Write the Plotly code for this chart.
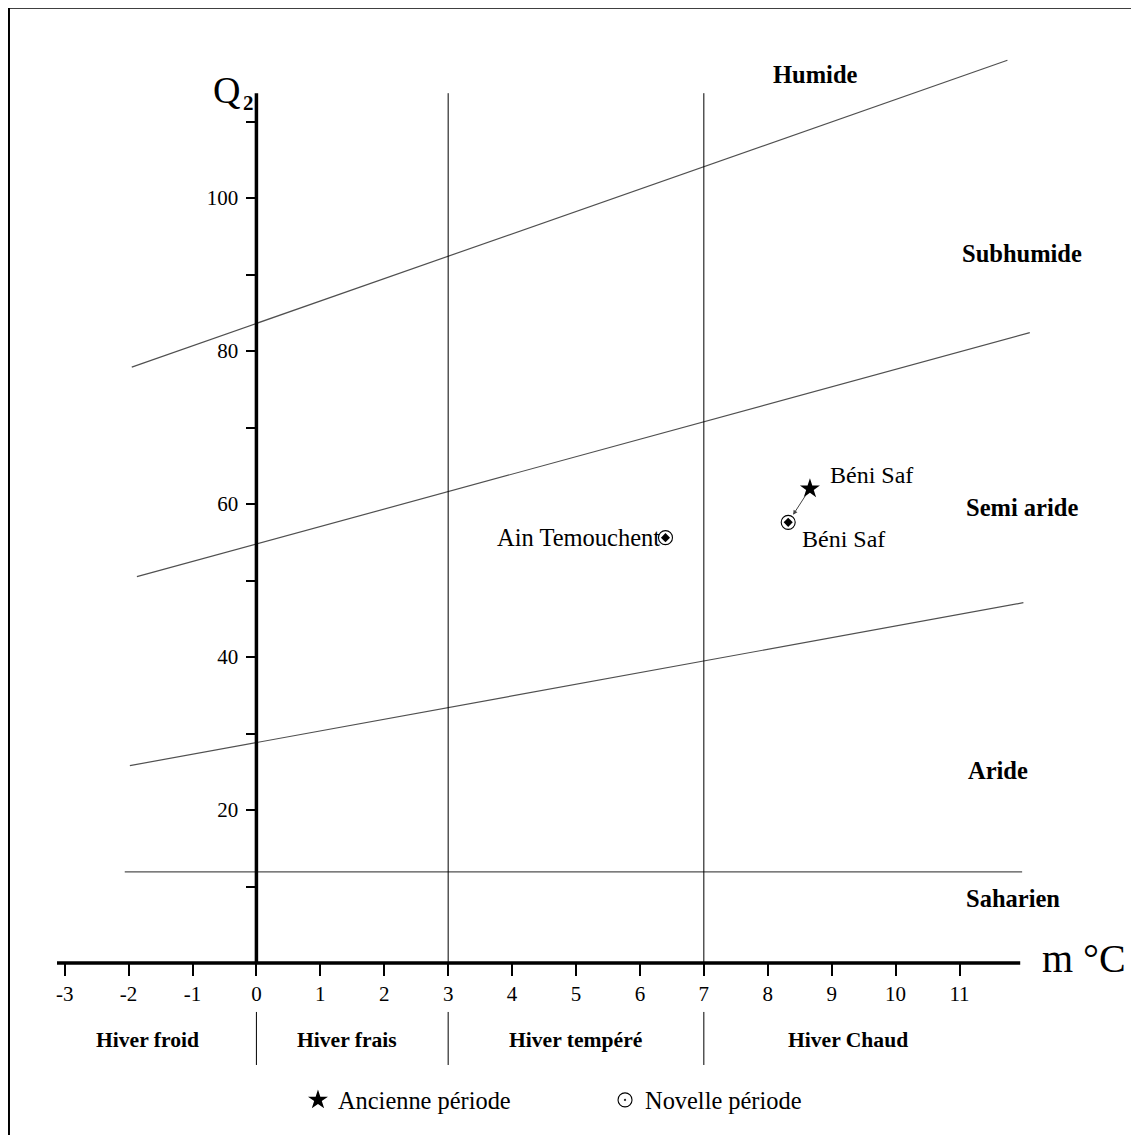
import plotly.graph_objects as go

# ---------------- data ----------------
x_ticks = [-3, -2, -1, 0, 1, 2, 3, 4, 5, 6, 7, 8, 9, 10, 11]
y_tick_vals = [10, 20, 30, 40, 50, 60, 70, 80, 90, 100, 110]
y_tick_text = ["", "20", "", "40", "", "60", "", "80", "", "100", ""]

# bioclimatic boundaries (Emberger)
humide_x = [-1.95, 11.75]
humide_y = [77.9, 118.0]
semiaride_x = [-1.87, 12.1]
semiaride_y = [50.5, 82.4]
aride_x = [-1.98, 12.0]
aride_y = [25.8, 47.1]
saharien_x = [-2.06, 11.98]
saharien_y = [11.9, 11.9]

winter_lines_x = [3, 7]
winter_lines_top = 113.7
winter_bounds = [0, 3, 7]
winter_labels = ["Hiver froid", "Hiver frais", "Hiver tempéré", "Hiver Chaud"]
winter_label_x = [-1.7, 1.42, 5.0, 9.25]

zone_labels = ["Humide", "Subhumide", "Semi aride", "Aride", "Saharien"]
zone_label_x = [8.74, 11.98, 11.98, 11.6, 11.83]
zone_label_y = [116.1, 92.8, 59.5, 25.1, 8.4]

old_names = ["Béni Saf"]
old_x = [8.66]
old_y = [62.0]

new_names = ["Ain Temouchent", "Béni Saf"]
new_x = [6.40, 8.32]
new_y = [55.6, 57.6]

X_RANGE = [-3.12, 12.15]
Y_RANGE = [0, 118.3]
Y_AXIS_TOP = 113.7
X_AXIS_END = 11.95

FONT = "Liberation Serif"
LINE_GREY = "#505050"

fig = go.Figure()

for xs, ys in [(humide_x, humide_y), (semiaride_x, semiaride_y),
               (aride_x, aride_y), (saharien_x, saharien_y)]:
    fig.add_trace(go.Scatter(x=xs, y=ys, mode="lines",
                             line=dict(color=LINE_GREY, width=1.2),
                             showlegend=False, hoverinfo="skip"))

for xv in winter_lines_x:
    fig.add_trace(go.Scatter(x=[xv, xv], y=[0, winter_lines_top], mode="lines",
                             line=dict(color="black", width=1),
                             showlegend=False, hoverinfo="skip"))

# points
fig.add_trace(go.Scatter(x=old_x, y=old_y, mode="markers", name="Ancienne période",
                         marker=dict(symbol="star", size=15, color="black"),
                         legend="legend", cliponaxis=False))
fig.add_trace(go.Scatter(x=new_x, y=new_y, mode="markers", name="Novelle période",
                         marker=dict(symbol="circle-open-dot", size=14, color="black",
                                     line=dict(width=1.1, color="black")),
                         legend="legend2", cliponaxis=False))
fig.add_trace(go.Scatter(x=new_x, y=new_y, mode="markers", showlegend=False,
                         marker=dict(symbol="diamond", size=7, color="black"),
                         cliponaxis=False, hoverinfo="skip"))

shapes = []
# y axis line at x = 0
shapes.append(dict(type="line", xref="x", yref="y", x0=0, x1=0, y0=0, y1=Y_AXIS_TOP,
                   line=dict(color="black", width=3.5)))
# x axis line at y = 0
shapes.append(dict(type="line", xref="x", yref="paper", x0=X_RANGE[0], x1=X_AXIS_END,
                   y0=0, y1=0, line=dict(color="black", width=3.5)))
# winter separators below axis
for b in winter_bounds:
    shapes.append(dict(type="line", xref="x", yref="paper", x0=b, x1=b,
                       y0=-0.0541, y1=-0.1127, line=dict(color="black", width=1)))
# frame (left and top)
shapes.append(dict(type="line", xref="paper", yref="paper", x0=-0.0492, x1=-0.0492,
                   y0=-0.2, y1=1.0554, line=dict(color="black", width=2)))
shapes.append(dict(type="line", xref="paper", yref="paper", x0=-0.0492, x1=1.12,
                   y0=1.0554, y1=1.0554, line=dict(color="black", width=2)))

annotations = []
for t, xv, yv in zip(zone_labels, zone_label_x, zone_label_y):
    annotations.append(dict(x=xv, y=yv, xref="x", yref="y", text="<b>" + t + "</b>",
                            xanchor="center", yanchor="middle",
                            showarrow=False, font=dict(family=FONT, size=24.5, color="black")))
for t, xv in zip(winter_labels, winter_label_x):
    annotations.append(dict(x=xv, y=-0.0851, xref="x", yref="paper", text="<b>" + t + "</b>",
                            xanchor="center", yanchor="middle",
                            showarrow=False, font=dict(family=FONT, size=21.6, color="black")))

# station labels
annotations.append(dict(x=new_x[0], y=new_y[0], xref="x", yref="y", text=new_names[0],
                        xanchor="right", yanchor="middle", xshift=-3, showarrow=False,
                        font=dict(family=FONT, size=24.5, color="black")))
annotations.append(dict(x=new_x[1], y=new_y[1], xref="x", yref="y", text=new_names[1],
                        xanchor="left", yanchor="middle", xshift=12, yshift=-17, showarrow=False,
                        font=dict(family=FONT, size=24, color="black")))
annotations.append(dict(x=old_x[0], y=old_y[0], xref="x", yref="y", text=old_names[0],
                        xanchor="left", yanchor="middle", xshift=18, yshift=14, showarrow=False,
                        font=dict(family=FONT, size=24, color="black")))
# arrow old -> new
annotations.append(dict(x=new_x[1], y=new_y[1], ax=old_x[0], ay=old_y[0],
                        xref="x", yref="y", axref="x", ayref="y", text="",
                        showarrow=True, arrowhead=2, arrowsize=0.9, arrowwidth=1,
                        arrowcolor="#444444", standoff=9, startstandoff=7))
# axis titles
annotations.append(dict(x=0.1895, y=0.9646, xref="paper", yref="paper",
                        text="Q", showarrow=False, xanchor="right", yanchor="middle",
                        font=dict(family=FONT, size=38, color="black")))
annotations.append(dict(x=0.1885, y=0.950, xref="paper", yref="paper",
                        text="<b>2</b>", showarrow=False, xanchor="left", yanchor="middle",
                        font=dict(family=FONT, size=21, color="black")))
annotations.append(dict(x=1.052, y=0.005, xref="paper", yref="paper",
                        text="m °C", showarrow=False, xanchor="center", yanchor="middle",
                        font=dict(family=FONT, size=40, color="black")))

fig.update_layout(
    width=1131, height=1127,
    margin=dict(l=49, r=106, t=50, b=172),
    paper_bgcolor="white", plot_bgcolor="white",
    font=dict(family=FONT, color="black"),
    xaxis=dict(range=X_RANGE, showgrid=False, zeroline=False, showline=False,
               tickvals=x_ticks, ticktext=[str(v) for v in x_ticks],
               ticks="outside", ticklen=12, tickwidth=1.5, tickcolor="black",
               tickfont=dict(family=FONT, size=21, color="black")),
    yaxis=dict(range=Y_RANGE, showgrid=False, zeroline=False, showline=False,
               anchor="free", position=(0 - X_RANGE[0]) / (X_RANGE[1] - X_RANGE[0]),
               side="left", tickvals=y_tick_vals, ticktext=y_tick_text,
               ticks="outside", ticklen=10, tickwidth=1.5, tickcolor="black",
               ticklabelstandoff=4,
               tickfont=dict(family=FONT, size=21, color="black")),
    shapes=shapes,
    annotations=annotations,
    legend=dict(x=0.2469, y=-0.1514, xanchor="left", yanchor="middle",
                font=dict(family=FONT, size=24.4, color="black"), bgcolor="rgba(0,0,0,0)"),
    legend2=dict(x=0.5615, y=-0.1514, xanchor="left", yanchor="middle",
                 font=dict(family=FONT, size=24.4, color="black"), bgcolor="rgba(0,0,0,0)"),
)

fig.write_html("out.html")
